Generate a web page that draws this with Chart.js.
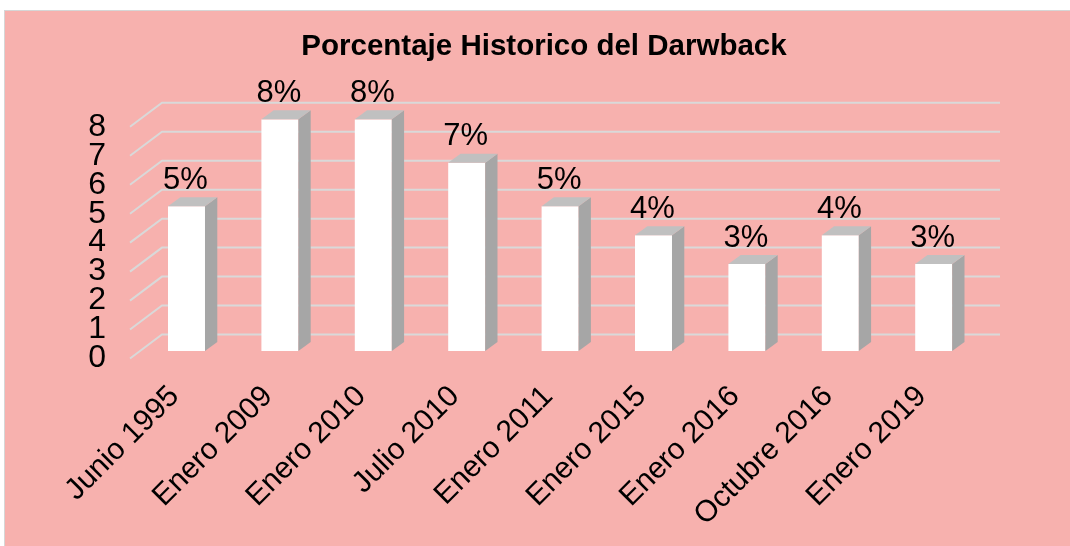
<!DOCTYPE html>
<html><head><meta charset="utf-8">
<script src="https://cdn.jsdelivr.net/npm/chart.js@4.4.1/dist/chart.umd.min.js"></script>
<style>
html,body{margin:0;padding:0;background:#fff;width:1070px;height:546px;overflow:hidden}
#box{position:absolute;left:4px;top:10px;width:1080px;height:546px;background:#F7B1AE;border:1.5px solid #D6D6D6;box-sizing:border-box}
#wrap{position:absolute;left:0;top:0;width:1070px;height:546px}
</style></head><body>
<div id="box"></div>
<div id="wrap"><canvas id="c" width="1070" height="546"></canvas></div>
<script>
const categories = ['Junio 1995','Enero 2009','Enero 2010','Julio 2010','Enero 2011','Enero 2015','Enero 2016','Octubre 2016','Enero 2019'];
const values = [5, 8, 8, 6.5, 5, 4, 3, 4, 3];
const yTickValues = [0, 1, 2, 3, 4, 5, 6, 7, 8];
const titleText = 'Porcentaje Historico del Darwback';

const FONT = '"Liberation Sans", Arial, Helvetica, sans-serif';

const threeD = {
  id: 'threeD',
  beforeDatasetsDraw(chart) {
    const ctx = chart.ctx, y = chart.scales.y, ca = chart.chartArea;
    ctx.save();
    ctx.strokeStyle = '#D9D9D9';
    ctx.lineWidth = 2;
    yTickValues.forEach(v => {
      const p = y.getPixelForValue(v);
      ctx.beginPath();
      ctx.moveTo(ca.left - 9.8, p + 7.5);
      ctx.lineTo(ca.left + 22.2, p - 16.5);
      ctx.lineTo(ca.right + 19.6, p - 16.5);
      ctx.stroke();
    });
    ctx.restore();
  },
  afterDatasetsDraw(chart) {
    const ctx = chart.ctx;
    const meta = chart.getDatasetMeta(0);
    const dx = 12.3, dy = 9;
    ctx.save();
    meta.data.forEach((el, i) => {
      const {x, y, base, width} = el.getProps(['x', 'y', 'base', 'width'], true);
      const l = x - width / 2, r = x + width / 2;
      ctx.fillStyle = '#A6A6A6';
      ctx.beginPath();
      ctx.moveTo(r, y); ctx.lineTo(r + dx, y - dy); ctx.lineTo(r + dx, base - dy); ctx.lineTo(r, base);
      ctx.closePath(); ctx.fill();
      ctx.fillStyle = '#C0C0C0';
      ctx.beginPath();
      ctx.moveTo(l, y); ctx.lineTo(l + dx, y - dy); ctx.lineTo(r + dx, y - dy); ctx.lineTo(r, y);
      ctx.closePath(); ctx.fill();
      ctx.fillStyle = '#000';
      ctx.font = '31px ' + FONT;
      ctx.textAlign = 'center';
      ctx.textBaseline = 'alphabetic';
      ctx.fillText(Math.round(values[i]) + '%', x - 1, y - 17.5);
    });
    ctx.restore();
  }
};

new Chart(document.getElementById('c'), {
  type: 'bar',
  data: {
    labels: categories,
    datasets: [{
      data: values,
      backgroundColor: '#FFFFFF',
      borderWidth: 0,
      barPercentage: 0.396,
      categoryPercentage: 1,
      yAxisID: 'y'
    }]
  },
  options: {
    responsive: false,
    animation: false,
    devicePixelRatio: 1,
    layout: {padding: {left: 18, right: 0, top: 0, bottom: 0}},
    plugins: {
      legend: {display: false},
      tooltip: {enabled: false},
      title: {
        display: true,
        text: titleText,
        color: '#000',
        font: {family: FONT, size: 29.5, weight: 'bold'},
        padding: {top: 29.3, bottom: 54.6}
      }
    },
    scales: {
      x: {
        type: 'category',
        offset: true,
        grid: {display: false, drawTicks: false},
        border: {display: false},
        ticks: {
          color: '#000',
          font: {family: FONT, size: 30},
          minRotation: 45, maxRotation: 45,
          autoSkip: false,
          labelOffset: -12,
          padding: 28
        },
        afterFit(s) { s.height = 195; }
      },
      y: {
        display: false,
        min: 0, max: 8
      },
      yTicks: {
        type: 'linear',
        position: 'left',
        min: 0.259, max: 8.259,
        grid: {display: false, drawTicks: false},
        border: {display: false},
        ticks: {color: '#000', font: {family: FONT, size: 32}, padding: 33.8, autoSkip: false},
        afterBuildTicks(s) { s.ticks = yTickValues.map(v => ({value: v})); },
        afterFit(s) { s.width = 121.8; }
      },
      yR: {
        type: 'linear',
        position: 'right',
        grid: {display: false, drawTicks: false},
        border: {display: false},
        ticks: {display: false},
        afterFit(s) { s.width = 89.6; }
      }
    }
  },
  plugins: [threeD]
});
</script>
</body></html>
